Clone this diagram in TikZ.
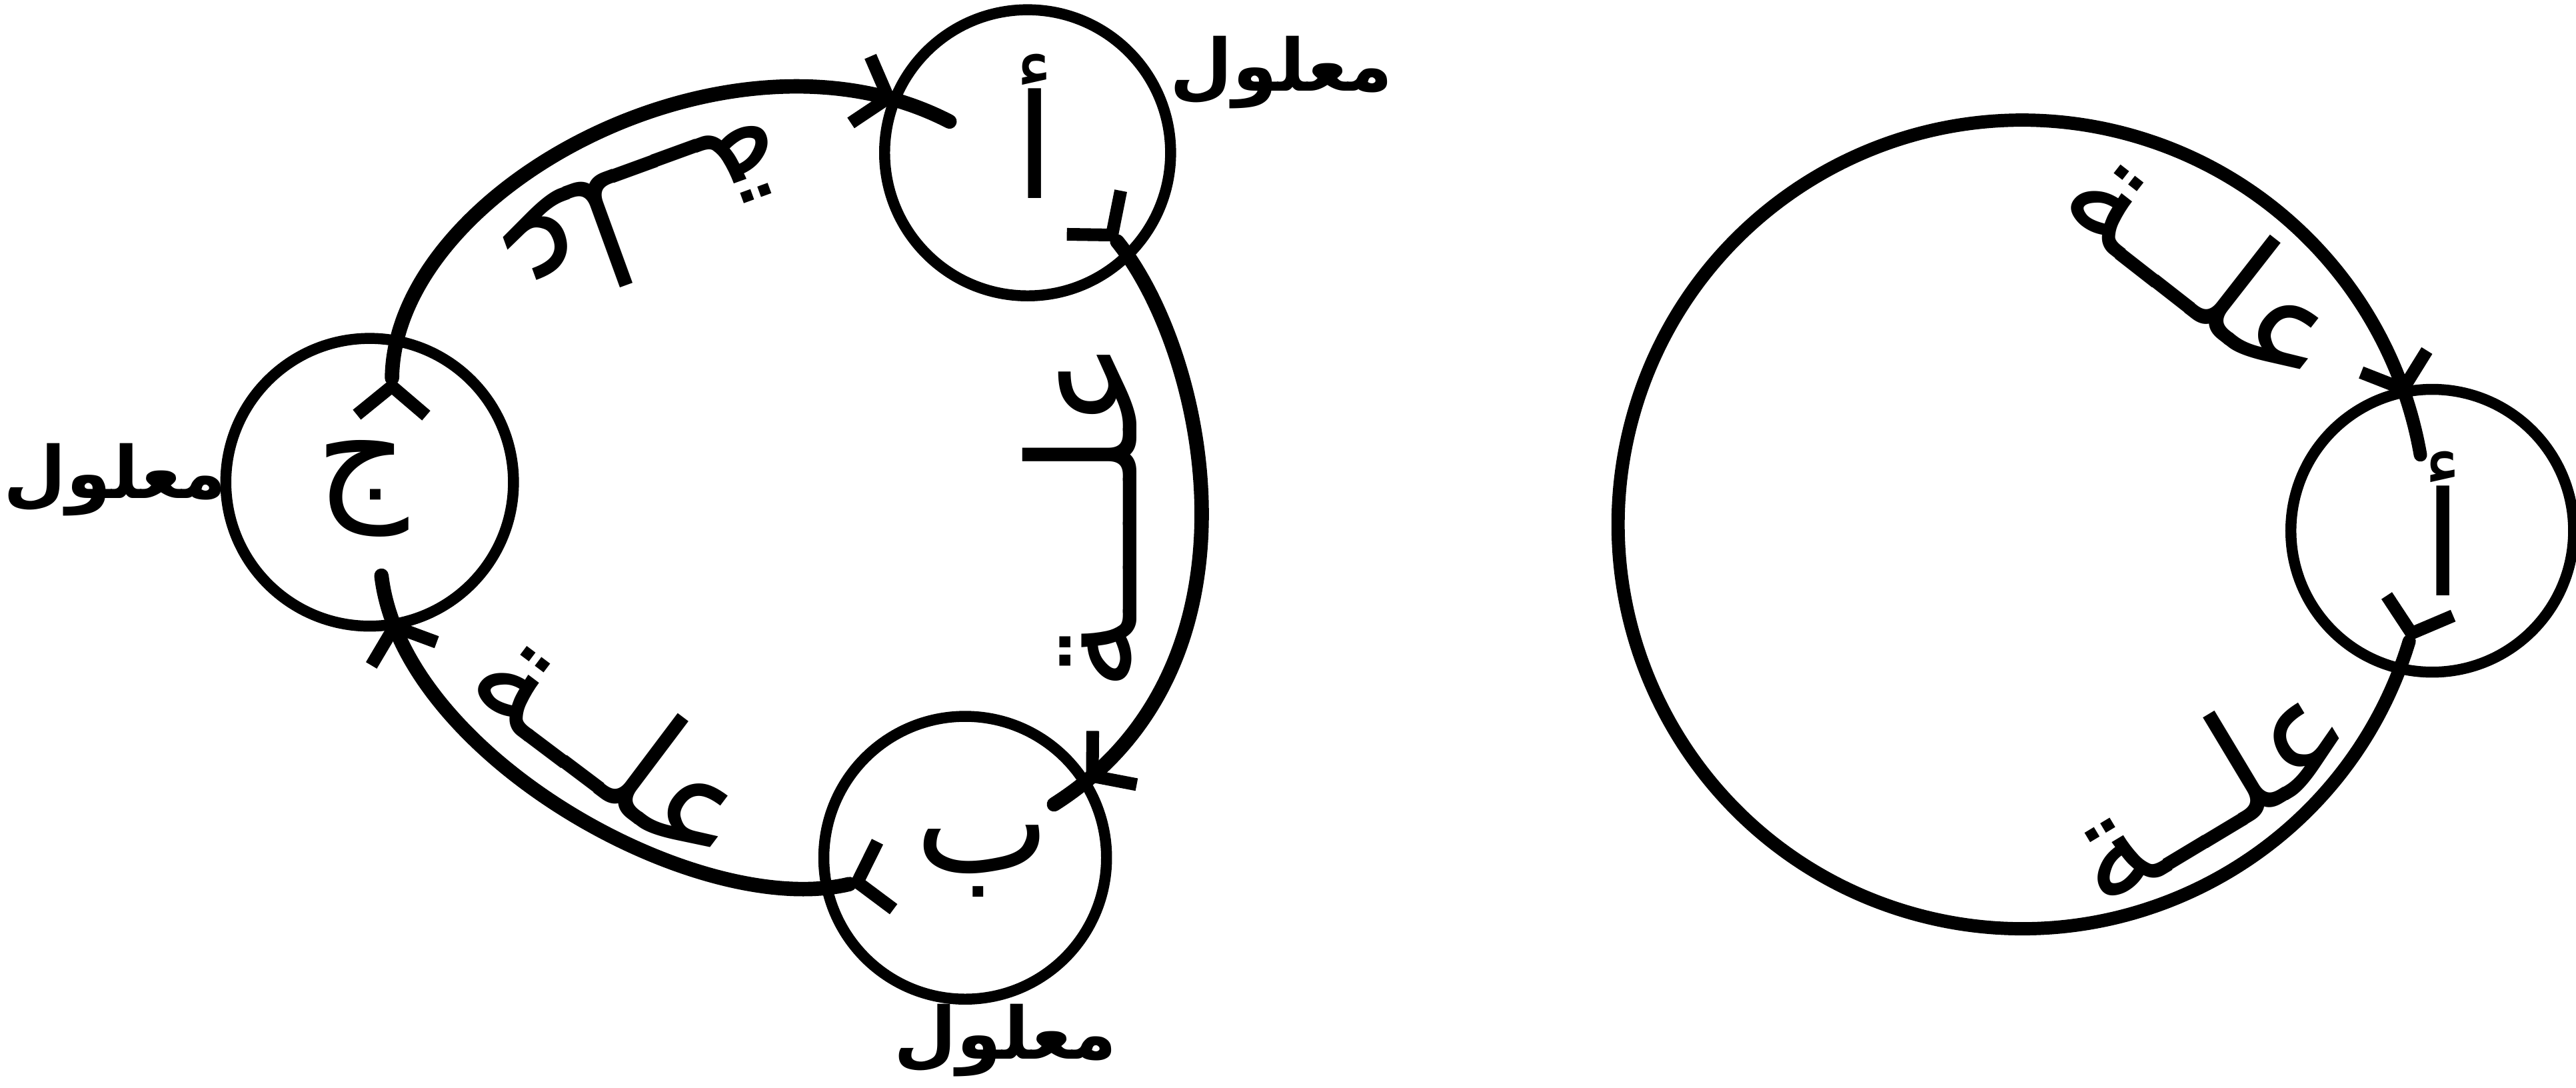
\documentclass[tikz,border=0pt]{standalone}
\usepackage{fontspec}
\newfontfamily\arabicfont[Script=Arabic]{DejaVu Sans}
\newfontfamily\arabicbold[Script=Arabic]{DejaVu Sans Bold}
\TeXXeTstate=1
\usetikzlibrary{arrows.meta,shapes.geometric,decorations.markings,calc}
\tikzset{
  fk/.tip={Straight Barb[length=5pt,width=12pt,line width=2.2pt]},
  ring/.style={draw,circle,line width=1.9pt,inner sep=0pt,minimum size=#1},
  cyc/.style={line width=2.5pt,line cap=round,
     decoration={markings,mark=at position 0 with {\arrow{fk}},mark=at position #1 with {\arrow{fk}}},
     postaction={decorate}},
  letter/.style={font=\arabicfont\fontsize{25}{30}\selectfont,inner sep=0pt},
  effect/.style={font=\arabicbold\fontsize{12.5}{15}\selectfont,inner sep=0pt},
  cause/.style={font=\arabicfont\fontsize{26}{31}\selectfont,inner sep=0pt},
}
\begin{document}
\begin{tikzpicture}[x=0.01cm,y=0.01cm]
\useasboundingbox (0,0) rectangle (1568,-662);
% ---------- left figure ----------
\node[ring=1.74cm] (A) at (625.5,-93) {};
\node[ring=1.72cm] (B) at (587.5,-522) {};
\node[ring=1.75cm] (C) at (225,-293.5) {};
\node[letter] (la) at (630,-77) {أ};
\node[letter] (lb) at (598,-524) {ب};
\node[letter] (lc) at (220.6,-297.5) {ج};
\node[effect] (ea) at (780,-44) {\beginR معلول\endR};
\node[effect] (eb) at (612,-633) {\beginR معلول\endR};
\node[effect] (ec) at (70,-292) {\beginR معلول\endR};
\draw[cyc=-0.35cm] ($(C)+(77.9:64.9)$) .. controls (240,-115) and (445,-5) .. ($(A)+(158.2:51.2)$);
\draw[cyc=-0.24cm] ($(A)+(-44.7:76.7)$) .. controls (735,-215) and (775,-405) .. ($(B)+(31:63.1)$);
\draw[cyc=-0.27cm] ($(B)+(192.8:72.3)$) .. controls (425,-560) and (245,-460) .. ($(C)+(-82.8:57.3)$);
\node[cause,rotate=200] (t1) at (392,-133) {\beginR علــة\endR};
\node[cause,rotate=90] (t2) at (657,-314) {\beginR علـــة\endR};
\node[cause,rotate=-37] (t3) at (376,-450) {\beginR علــة\endR};
% ---------- right figure ----------
\node[ring=1.72cm] (A2) at (1480.5,-323) {};
\node[letter] (la2) at (1487,-318.5) {أ};
\draw[cyc=-0.365cm,line width=2.3pt] ($(A2)+(258.2:68.7)$) arc[start angle=-16.8,end angle=-350.1,radius=246];
\node[cause,rotate=-38] (t4) at (1345,-158) {\beginR علــة\endR};
\node[cause,rotate=31] (t5) at (1342,-477) {\beginR علــة\endR};
\end{tikzpicture}
\end{document}
